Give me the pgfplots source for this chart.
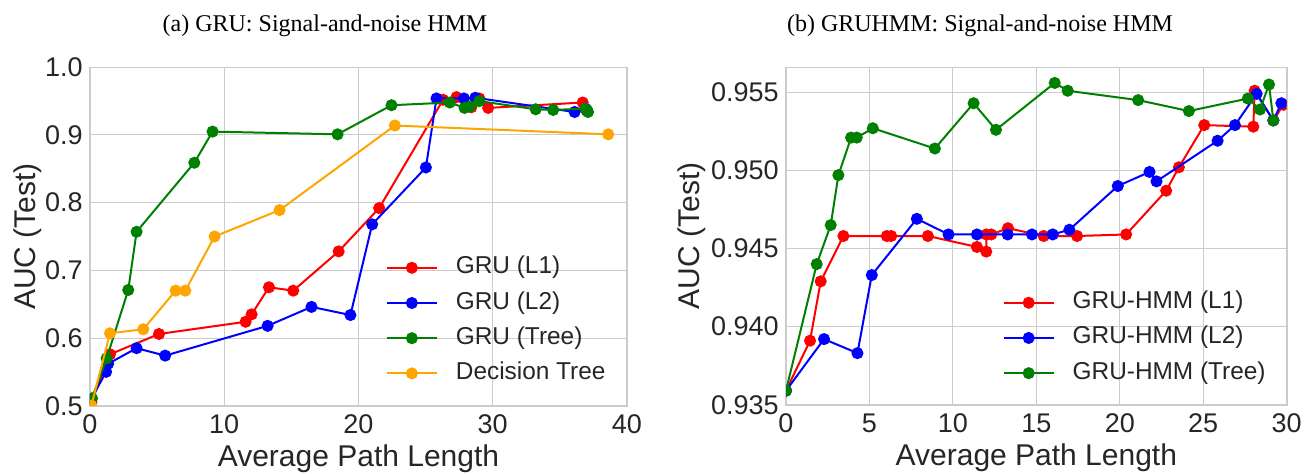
\documentclass[border=0pt]{standalone}
\usepackage{fontspec}
\setmainfont{Liberation Sans}
\newfontfamily\titlefont{Liberation Serif}
\usepackage{pgfplots}
\pgfplotsset{compat=1.18}

\definecolor{gridgray}{HTML}{CCCCCC}
\definecolor{labelgray}{HTML}{262626}
\definecolor{dtorange}{HTML}{FFA500}
\definecolor{grugreen}{HTML}{008000}

\pgfplotsset{
  aucstyle/.style={
    scale only axis,
    axis line style={draw=gridgray, line width=0.8pt},
    grid=major,
    major grid style={draw=gridgray, line width=0.5pt},
    major tick length=0pt,
    tick label style={font=\fontsize{13.5}{15}\selectfont, text=labelgray, inner sep=0pt},
    xticklabel style={yshift=-4.5pt},
    yticklabel style={xshift=-3.5pt},
    label style={font=\fontsize{15}{17}\selectfont, text=labelgray, inner sep=0pt},
    /pgf/number format/assume math mode=true,
    scaled y ticks=false,
    clip=true, clip marker paths=true,
    every axis plot/.append style={line width=1pt, mark=*, mark size=2.5pt},
    legend cell align=left,
    legend image code/.code={
      \draw[mark repeat=2, mark phase=2, #1] plot coordinates {(0pt,0pt) (12.5pt,0pt) (25pt,0pt)};
    },
    legend style={draw=none, fill=none, inner sep=0pt, outer sep=0pt,
      anchor=north west, font=\fontsize{12.2}{14}\selectfont, text=labelgray,
      nodes={inner sep=0pt, text height=9pt, text depth=3pt},
      row sep=5.6pt, column sep=9pt},
  }
}

\begin{document}
\begin{tikzpicture}
\path[use as bounding box] (0,0) rectangle (656.5pt,-236.5pt);

\node[font=\titlefont\fontsize{12}{14}\selectfont, anchor=base] at (162.5pt,-15.5pt) {(a) GRU: Signal-and-noise HMM};
\node[font=\titlefont\fontsize{12}{14}\selectfont, anchor=base] at (490pt,-15.5pt) {(b) GRUHMM: Signal-and-noise HMM};

% (a) GRU
\begin{axis}[
  aucstyle,
  at={(45pt,-202.85pt)}, anchor=south west,
  width=268.5pt, height=169.2pt,
  xmin=0, xmax=40, ymin=0.5, ymax=1.0,
  xtick={0,10,20,30,40},
  ytick={0.5,0.6,0.7,0.8,0.9,1.0},
  yticklabel style={/pgf/number format/.cd, fixed, fixed zerofill, precision=1},
  xlabel={Average Path Length},
  ylabel={AUC (Test)},
  xlabel style={at={(axis description cs:0.5,-0.1150)}, anchor=north},
  ylabel style={at={(axis description cs:-0.1155,0.5)}, anchor=center},
  legend style={at={(axis description cs:0.551,0.443)}},
]
\addplot[red] coordinates {
  (0.1,0.505) (1.49,0.576) (5.14,0.606) (11.59,0.624) (12.04,0.635)
  (13.33,0.675) (15.14,0.670) (18.52,0.728) (21.54,0.792) (26.3,0.952)
  (27.3,0.956) (28.4,0.941) (29.0,0.954) (29.66,0.940) (36.7,0.948) (37.0,0.936)
};
\addplot[blue] coordinates {
  (0.1,0.510) (1.2,0.550) (1.35,0.562) (3.47,0.585) (5.6,0.574)
  (13.23,0.618) (16.5,0.646) (19.4,0.634) (21.02,0.768) (25.02,0.852)
  (25.81,0.954) (27.85,0.954) (28.7,0.955) (36.1,0.934) (37.0,0.937)
};
\addplot[grugreen] coordinates {
  (0.15,0.511) (1.24,0.570) (2.85,0.671) (3.47,0.757) (7.77,0.859)
  (9.13,0.905) (18.44,0.901) (22.46,0.944) (26.8,0.948) (27.9,0.940)
  (28.3,0.942) (29.0,0.950) (33.2,0.938) (34.5,0.937) (36.9,0.939) (37.1,0.934)
};
\addplot[dtorange] coordinates {
  (0.1,0.500) (1.49,0.607) (3.97,0.613) (6.38,0.670) (7.1,0.670)
  (9.28,0.750) (14.12,0.789) (22.71,0.914) (38.6,0.901)
};
\legend{GRU (L1), GRU (L2), GRU (Tree), Decision Tree}
\end{axis}

% (b) GRUHMM
\begin{axis}[
  aucstyle,
  at={(393pt,-202.35pt)}, anchor=south west,
  width=250.35pt, height=168.7pt,
  xmin=0, xmax=30, ymin=0.935, ymax=0.9566,
  xtick={0,5,10,15,20,25,30},
  ytick={0.935,0.940,0.945,0.950,0.955},
  yticklabel style={/pgf/number format/.cd, fixed, fixed zerofill, precision=3},
  xlabel={Average Path Length},
  ylabel={AUC (Test)},
  xlabel style={at={(axis description cs:0.5,-0.1155)}, anchor=north},
  ylabel style={at={(axis description cs:-0.1877,0.5)}, anchor=center},
  legend style={at={(axis description cs:0.4328,0.3377)}},
]
\addplot[red] coordinates {
  (0,0.9359) (1.44,0.9391) (2.08,0.9429) (3.44,0.9458) (6.04,0.9458)
  (6.3,0.9458) (8.5,0.9458) (11.44,0.9451) (12.0,0.9448) (12.0,0.9459)
  (12.3,0.9459) (13.3,0.9463) (15.44,0.9458) (17.44,0.9458) (20.38,0.9459)
  (22.78,0.9487) (23.54,0.9502) (25.06,0.9529) (28.0,0.9528) (28.08,0.9551)
  (29.2,0.9532) (29.8,0.9542)
};
\addplot[blue] coordinates {
  (0,0.9359) (2.28,0.9392) (4.28,0.9383) (5.14,0.9433) (7.84,0.9469)
  (9.74,0.9459) (11.44,0.9459) (13.28,0.9459) (14.74,0.9459) (15.98,0.9459)
  (16.98,0.9462) (19.88,0.9490) (21.78,0.9499) (22.2,0.9493) (25.86,0.9519)
  (26.9,0.9529) (28.2,0.9549) (29.2,0.9532) (29.68,0.9543)
};
\addplot[grugreen] coordinates {
  (0,0.9359) (1.84,0.9440) (2.68,0.9465) (3.14,0.9497) (3.9,0.9521)
  (4.24,0.9521) (5.2,0.9527) (8.92,0.9514) (11.24,0.9543) (12.58,0.9526)
  (16.1,0.9556) (16.88,0.9551) (21.1,0.9545) (24.14,0.9538) (27.67,0.9546)
  (28.4,0.9539) (28.94,0.9555) (29.2,0.9532)
};
\legend{GRU-HMM (L1), GRU-HMM (L2), GRU-HMM (Tree)}
\end{axis}
\end{tikzpicture}
\end{document}
